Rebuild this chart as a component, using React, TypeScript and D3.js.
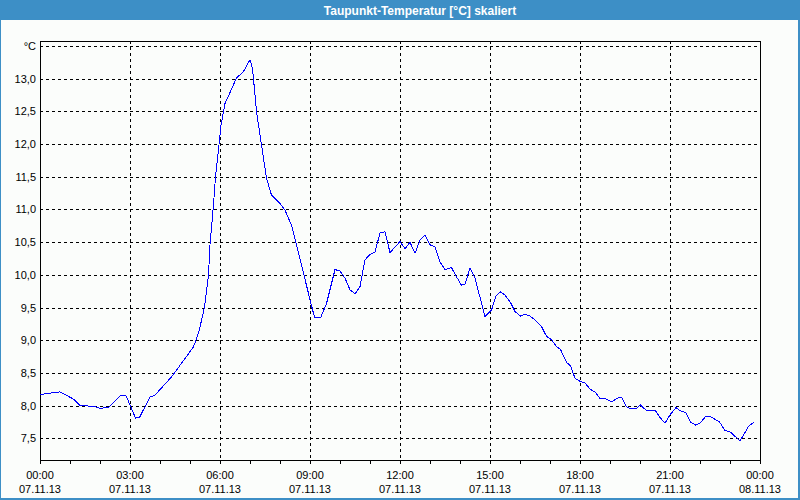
import React from "react";
import * as d3 from "d3";

// time in minutes after 07.11.13 00:00, dew point in °C
const times: number[] = [
  0, 20, 40, 67, 80, 107, 120, 137, 160, 172, 180, 191, 199, 220, 230, 263, 293, 307, 317, 327,
  331, 337, 340, 347, 351, 358, 362, 370, 393, 407, 420, 425, 433, 443, 453, 463, 480, 490, 503, 523,
  540, 549, 561, 573, 590, 600, 610, 620, 630, 640, 650, 660, 670, 680, 690, 700, 720, 730, 740, 750,
  760, 770, 780, 790, 800, 810, 823, 833, 843, 850, 860, 870, 890, 903, 912, 921, 930, 940, 950, 961,
  970, 980, 990, 1003, 1013, 1023, 1033, 1041, 1053, 1061, 1070, 1080, 1090, 1100, 1110, 1120, 1133, 1143, 1157, 1163,
  1173, 1183, 1192, 1201, 1212, 1230, 1240, 1250, 1260, 1272, 1281, 1292, 1301, 1312, 1321, 1332, 1341, 1359, 1370, 1380,
  1400, 1417, 1428,
];
const values: number[] = [
  8.17, 8.19, 8.21, 8.1, 8.0, 7.99, 7.96, 7.97, 8.15, 8.15, 8.01, 7.81, 7.82, 8.13, 8.16, 8.44, 8.75, 8.9, 9.11, 9.43,
  9.62, 10.0, 10.46, 11.07, 11.5, 11.99, 12.29, 12.62, 13.01, 13.11, 13.29, 13.16, 12.5, 11.99, 11.48, 11.22, 11.09, 10.99, 10.76, 10.15,
  9.62, 9.35, 9.34, 9.56, 10.08, 10.06, 9.95, 9.77, 9.71, 9.82, 10.23, 10.31, 10.35, 10.64, 10.66, 10.34, 10.51, 10.4, 10.5, 10.33,
  10.53, 10.61, 10.46, 10.43, 10.2, 10.08, 10.11, 9.97, 9.84, 9.86, 10.1, 9.95, 9.36, 9.46, 9.68, 9.74, 9.69, 9.59, 9.44, 9.37,
  9.4, 9.37, 9.31, 9.21, 9.06, 9.01, 8.9, 8.86, 8.66, 8.61, 8.42, 8.37, 8.35, 8.25, 8.21, 8.11, 8.1, 8.06, 8.12, 8.13,
  7.98, 7.95, 7.95, 8.01, 7.93, 7.93, 7.82, 7.73, 7.86, 7.97, 7.92, 7.89, 7.75, 7.7, 7.74, 7.84, 7.83, 7.75, 7.62, 7.6,
  7.46, 7.68, 7.75,
];

const yTicks: number[] = [7.5, 8, 8.5, 9, 9.5, 10, 10.5, 11, 11.5, 12, 12.5, 13, 13.5];
const xTickHours: number[] = [0, 3, 6, 9, 12, 15, 18, 21, 24];
const xTimeLabels: string[] = ["00:00", "03:00", "06:00", "09:00", "12:00", "15:00", "18:00", "21:00", "00:00"];
const xDateLabels: string[] = ["07.11.13", "07.11.13", "07.11.13", "07.11.13", "07.11.13", "07.11.13", "07.11.13", "07.11.13", "08.11.13"];
const title = "Taupunkt-Temperatur [°C] skaliert";
const unitLabel = "°C";

const W = 800;
const H = 500;
const left = 40;
const right = 760;
const top = 41;
const bottom = 460;
const frameColor = "#3d8fc6";
const font = "'Liberation Sans', Arial, sans-serif";

export default function App() {
  const x = d3.scaleLinear().domain([0, 1440]).range([left, right]);
  const y = d3.scaleLinear().domain([7.168, 13.577]).range([bottom, top]);
  const line = d3
    .line<number>()
    .x((_, i) => x(times[i]))
    .y((v) => y(v));
  const hours = d3.range(0, 25);
  const fmt = (v: number) => (v === 13.5 ? unitLabel : d3.format(".1f")(v).replace(".", ","));
  const px = (v: number) => Math.round(v) + 0.5;

  return (
    <svg
      width={W}
      height={H}
      style={{ position: "fixed", left: 0, top: 0, display: "block" }}
      fontFamily={font}
    >
      <rect x={0} y={0} width={W} height={H} fill="#fbfdfb" />
      <rect x={0.5} y={0.5} width={W - 2} height={H - 2} fill="none" stroke={frameColor} strokeWidth={1} />
      <rect x={798} y={0} width={2} height={H} fill={frameColor} />
      <rect x={0} y={498} width={W} height={2} fill={frameColor} />
      <rect x={0} y={0} width={W} height={20} fill={frameColor} />
      <text x={420} y={14.5} textAnchor="middle" fill="#ffffff" fontSize={12} fontWeight="bold">
        {title}
      </text>

      <g shapeRendering="crispEdges">
        {yTicks.map((t) => (
          <line
            key={"hy" + t}
            x1={left}
            x2={right}
            y1={px(y(t))}
            y2={px(y(t))}
            stroke="#000"
            strokeDasharray="3,3"
          />
        ))}
        {xTickHours.slice(1, -1).map((h) => (
          <line
            key={"vx" + h}
            x1={px(x(h * 60))}
            x2={px(x(h * 60))}
            y1={top}
            y2={bottom}
            stroke="#000"
            strokeDasharray="3,3"
          />
        ))}
        {hours.map((h) => (
          <line
            key={"tk" + h}
            x1={px(x(h * 60))}
            x2={px(x(h * 60))}
            y1={bottom}
            y2={bottom + 4}
            stroke="#000"
          />
        ))}
        <rect
          x={left + 0.5}
          y={top + 0.5}
          width={right - left}
          height={bottom - top}
          fill="none"
          stroke="#000"
        />
      </g>

      <path d={line(values) || ""} fill="none" stroke="#0000ff" strokeWidth={1} shapeRendering="crispEdges" />

      {yTicks.map((t) => (
        <text key={"yl" + t} x={36} y={y(t) + 4} textAnchor="end" fontSize={11} fill="#000">
          {fmt(t)}
        </text>
      ))}
      {xTickHours.map((h, i) => (
        <g key={"xl" + h}>
          <text x={x(h * 60)} y={479} textAnchor="middle" fontSize={11} fill="#000">
            {xTimeLabels[i]}
          </text>
          <text x={x(h * 60)} y={493} textAnchor="middle" fontSize={11} fill="#000">
            {xDateLabels[i]}
          </text>
        </g>
      ))}
    </svg>
  );
}
